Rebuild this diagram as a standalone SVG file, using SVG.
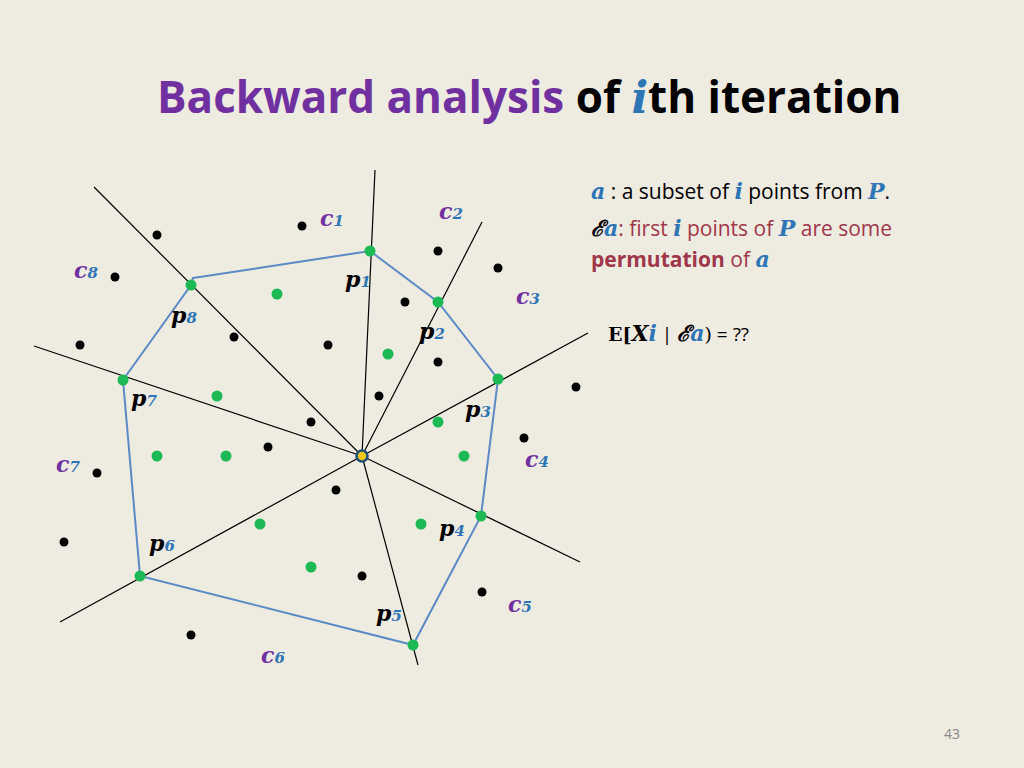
<svg xmlns="http://www.w3.org/2000/svg" width="1024" height="768" viewBox="0 0 1024 768">
<style>
.ray{stroke:#000;stroke-width:1.2}
.k{fill:#000}
.g{fill:#1db954}
.m{font-family:"DejaVu Serif","Liberation Serif",serif;font-style:italic;font-weight:bold;font-size:22px}
.s{font-size:15px;fill:#2e75b6}
.c{fill:#7030a0}
.t{font-family:"Open Sans","Liberation Sans",sans-serif;font-size:21px}
</style>
<rect width="1024" height="768" fill="#eeebe1"/>
<text x="157" y="113" font-family="Open Sans,Liberation Sans,sans-serif" font-weight="bold" font-size="44" fill="#7030a0">Backward analysis <tspan fill="#000">of </tspan><tspan fill="#2e75b6" font-family="DejaVu Serif,serif" font-style="italic">i</tspan><tspan fill="#000">th iteration</tspan></text>
<g id="connectors">
<g class="ray">
<line x1="362" y1="456" x2="94" y2="187"/>
<line x1="362" y1="456" x2="375" y2="170"/>
<line x1="362" y1="456" x2="482" y2="222"/>
<line x1="362" y1="456" x2="588" y2="333"/>
<line x1="362" y1="456" x2="580" y2="562"/>
<line x1="362" y1="456" x2="418" y2="665"/>
<line x1="362" y1="456" x2="60" y2="622"/>
<line x1="362" y1="456" x2="34" y2="346"/>
</g>
<polygon points="193,278 370,251 438,302 498,379 481,516 413,645 140,576 123,380 191,285" fill="none" stroke="#5b8ac6" stroke-width="2"/>
</g>
<g id="points">
<g class="k">
<circle cx="157" cy="235" r="4.5"/><circle cx="302" cy="226" r="4.5"/><circle cx="115" cy="277" r="4.5"/><circle cx="438" cy="251" r="4.5"/><circle cx="498" cy="268" r="4.5"/><circle cx="405" cy="302" r="4.5"/><circle cx="234" cy="337" r="4.5"/><circle cx="328" cy="345" r="4.5"/><circle cx="80" cy="345" r="4.5"/><circle cx="438" cy="362" r="4.5"/><circle cx="576" cy="387" r="4.5"/><circle cx="379" cy="396" r="4.5"/><circle cx="311" cy="422" r="4.5"/><circle cx="268" cy="447" r="4.5"/><circle cx="524" cy="438" r="4.5"/><circle cx="97" cy="473" r="4.5"/><circle cx="336" cy="490" r="4.5"/><circle cx="64" cy="542" r="4.5"/><circle cx="362" cy="576" r="4.5"/><circle cx="482" cy="592" r="4.5"/><circle cx="191" cy="635" r="4.5"/>
</g>
<g class="g">
<circle cx="370" cy="251" r="5.5"/><circle cx="438" cy="302" r="5.5"/><circle cx="498" cy="379" r="5.5"/><circle cx="481" cy="516" r="5.5"/><circle cx="413" cy="645" r="5.5"/><circle cx="140" cy="576" r="5.5"/><circle cx="123" cy="380" r="5.5"/><circle cx="191" cy="285" r="5.5"/>
<circle cx="277" cy="294" r="5.5"/><circle cx="388" cy="354" r="5.5"/><circle cx="217" cy="396" r="5.5"/><circle cx="438" cy="422" r="5.5"/><circle cx="157" cy="456" r="5.5"/><circle cx="226" cy="456" r="5.5"/><circle cx="464" cy="456" r="5.5"/><circle cx="260" cy="524" r="5.5"/><circle cx="421" cy="524" r="5.5"/><circle cx="311" cy="567" r="5.5"/>
</g>
<circle cx="362" cy="456" r="5.5" fill="#f5c518" stroke="#1f4e79" stroke-width="2.5"/>
</g>
<g id="labels" class="m">
<text x="320" y="226" class="c">c<tspan class="s">1</tspan></text>
<text x="439" y="219" class="c">c<tspan class="s">2</tspan></text>
<text x="516" y="304" class="c">c<tspan class="s">3</tspan></text>
<text x="525" y="467" class="c">c<tspan class="s">4</tspan></text>
<text x="508" y="612" class="c">c<tspan class="s">5</tspan></text>
<text x="261" y="663" class="c">c<tspan class="s">6</tspan></text>
<text x="56" y="472" class="c">c<tspan class="s">7</tspan></text>
<text x="74" y="278" class="c">c<tspan class="s">8</tspan></text>
<text x="345" y="287">p<tspan class="s">1</tspan></text>
<text x="419" y="339">p<tspan class="s">2</tspan></text>
<text x="465" y="417">p<tspan class="s">3</tspan></text>
<text x="439" y="536">p<tspan class="s">4</tspan></text>
<text x="376" y="621">p<tspan class="s">5</tspan></text>
<text x="149" y="551">p<tspan class="s">6</tspan></text>
<text x="131" y="406">p<tspan class="s">7</tspan></text>
<text x="171" y="323">p<tspan class="s">8</tspan></text>
</g>
<g id="text" class="t">
<text x="591" y="199"><tspan class="m" fill="#2e75b6" font-size="21">a</tspan> : a subset of <tspan class="m" fill="#2e75b6" font-size="21">i</tspan> points from <tspan class="m" fill="#2e75b6" font-size="21">P</tspan>.</text>
<text x="591" y="236" fill="#a0364a"><tspan class="m" fill="#000" font-size="21">ℰ</tspan><tspan class="m" fill="#2e75b6" font-size="14">a</tspan>: first <tspan class="m" fill="#2e75b6" font-size="21">i</tspan> points of <tspan class="m" fill="#2e75b6" font-size="21">P</tspan>  are some</text>
<text x="591" y="267" fill="#a0364a"><tspan font-weight="bold">permutation</tspan> of <tspan class="m" fill="#2e75b6" font-size="21">a</tspan></text>
<text x="608" y="341" font-size="19"><tspan font-family="DejaVu Serif,serif" font-weight="bold">E[</tspan><tspan class="m" font-size="20">X</tspan><tspan class="m" fill="#2e75b6" font-size="14">i</tspan> | <tspan class="m" font-size="20">ℰ</tspan><tspan class="m" fill="#2e75b6" font-size="14">a</tspan><tspan font-family="DejaVu Serif,serif">)</tspan>  =  ??</text>
<text x="944" y="739" font-size="14" fill="#888">43</text>
</g>
</svg>
